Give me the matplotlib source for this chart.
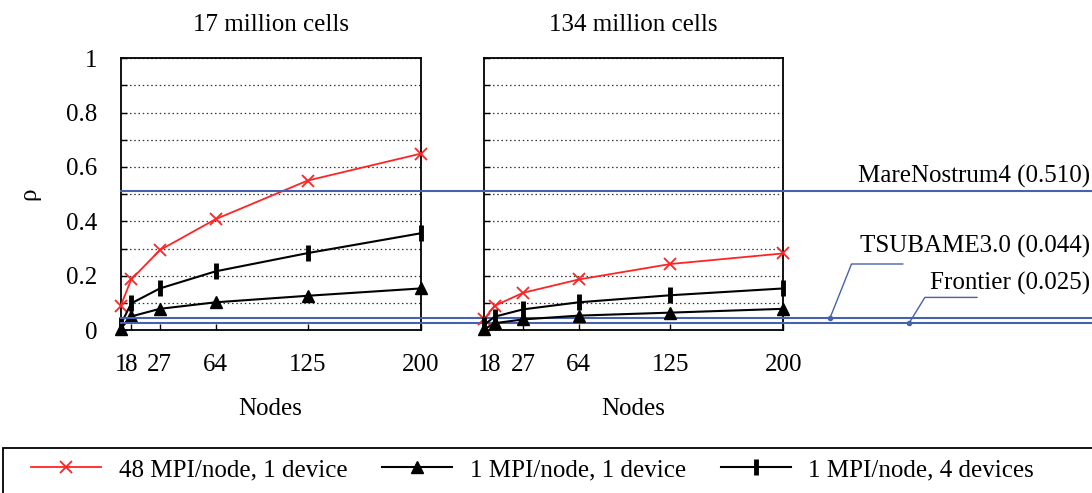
import numpy as np
import matplotlib
matplotlib.use('Agg')
import matplotlib.pyplot as plt
from matplotlib.patches import Rectangle

plt.rcParams['font.family'] = ['Liberation Serif', 'DejaVu Serif']
plt.rcParams['font.size'] = 18

# data
nodes = [1, 8, 27, 64, 125, 200]
tick_labels = ['1', '8', '27', '64', '125', '200']
titles = ['17 million cells', '134 million cells']

mpi48_1dev = [[0.089, 0.186, 0.294, 0.408, 0.550, 0.649],
              [0.039, 0.089, 0.137, 0.186, 0.243, 0.282]]
mpi1_1dev = [[0.005, 0.050, 0.078, 0.102, 0.126, 0.153],
             [0.002, 0.025, 0.039, 0.053, 0.064, 0.078]]
mpi1_4dev = [[0.020, 0.098, 0.153, 0.216, 0.283, 0.356],
             [0.018, 0.049, 0.076, 0.102, 0.128, 0.153]]

systems = ['MareNostrum4', 'TSUBAME3.0', 'Frontier']
sys_rho = [0.510, 0.044, 0.025]

red = '#ff2424'
blue = '#4662ae'

fig = plt.figure(figsize=(10.92, 4.93), dpi=100)
ax1 = fig.add_axes([0.1105, 0.3306, 0.2747, 0.5511])
ax2 = fig.add_axes([0.4432, 0.3306, 0.2741, 0.5511])

for i, ax in enumerate([ax1, ax2]):
    ax.plot(nodes, mpi48_1dev[i], color=red, marker='x', ms=9, mew=1.3, lw=1.3,
            label='48 MPI/node, 1 device', clip_on=False, zorder=5)
    ax.plot(nodes, mpi1_1dev[i], color='black', marker='^', ms=8, lw=1.5,
            label='1 MPI/node, 1 device', clip_on=False, zorder=5)
    ax.plot(nodes, mpi1_4dev[i], color='black', marker='|', ms=11, mew=3.5, lw=1.5,
            label='1 MPI/node, 4 devices', clip_on=False, zorder=5)
    ax.set_xlim(1, 200)
    ax.set_ylim(0, 1)
    ax.set_xticks(nodes)
    ax.set_xticklabels(tick_labels)
    ax.set_yticks(np.arange(0, 1.01, 0.2))
    ax.set_yticks(np.arange(0.1, 1.0, 0.2), minor=True)
    ax.grid(True, axis='y', which='both', linestyle=(0, (1.2, 2.2)), color='#333333', lw=0.9)
    ax.tick_params(direction='in', length=4, width=1, pad=17, labelsize=18)
    ax.tick_params(which='minor', direction='in', length=4, width=1)
    ax.set_title(titles[i], fontsize=18, pad=20)
    ax.set_xlabel('Nodes', fontsize=18, labelpad=16)
    for s in ax.spines.values():
        s.set_linewidth(1.3)

ax1.set_yticklabels(['0', '0.2', '0.4', '0.6', '0.8', '1'])
ax1.set_ylabel('ρ', fontsize=18, labelpad=18)
ax2.tick_params(axis='y', labelleft=False)
ax2.set_facecolor('none')

# machine reference lines, spanning both panels out to the right edge
x_left = (0.1105 - 0.4432) / 0.2741
x_right = (1.0 - 0.4432) / 0.2741
for r in sys_rho:
    ax2.axhline(r, xmin=x_left, xmax=x_right, color=blue, lw=1.5, clip_on=False, zorder=3)

tr = ax2.get_yaxis_transform()
ax2.text(2.025, 0.567, f'{systems[0]} ({sys_rho[0]:.3f})', transform=tr,
         ha='right', va='center', fontsize=18)
ax2.text(2.025, 0.309, f'{systems[1]} ({sys_rho[1]:.3f})', transform=tr,
         ha='right', va='center', fontsize=18)
ax2.text(2.025, 0.173, f'{systems[2]} ({sys_rho[2]:.3f})', transform=tr,
         ha='right', va='center', fontsize=18)

# leader lines for the two small values
ax2.plot([1.156, 1.228, 1.399], [sys_rho[1], 0.243, 0.243], color=blue, lw=1,
         transform=tr, clip_on=False)
ax2.plot([1.156], [sys_rho[1]], 'o', color=blue, ms=3, transform=tr, clip_on=False)
ax2.plot([1.42, 1.473, 1.647], [sys_rho[2], 0.120, 0.120], color=blue, lw=1,
         transform=tr, clip_on=False)
ax2.plot([1.42], [sys_rho[2]], 'o', color=blue, ms=3, transform=tr, clip_on=False)

# legend
handles, labels = ax1.get_legend_handles_labels()
fig.legend(handles, labels, loc='center left', bbox_to_anchor=(0.017, 0.047),
           ncol=3, frameon=False, fontsize=18, handlelength=2.8,
           handletextpad=0.7, columnspacing=1.4, borderpad=0)
fig.patches.append(Rectangle((0.003, -0.1), 1.2, 0.1 + 45 / 493, transform=fig.transFigure,
                             fill=False, edgecolor='black', lw=1.3))

plt.savefig('out.png', dpi=100)
